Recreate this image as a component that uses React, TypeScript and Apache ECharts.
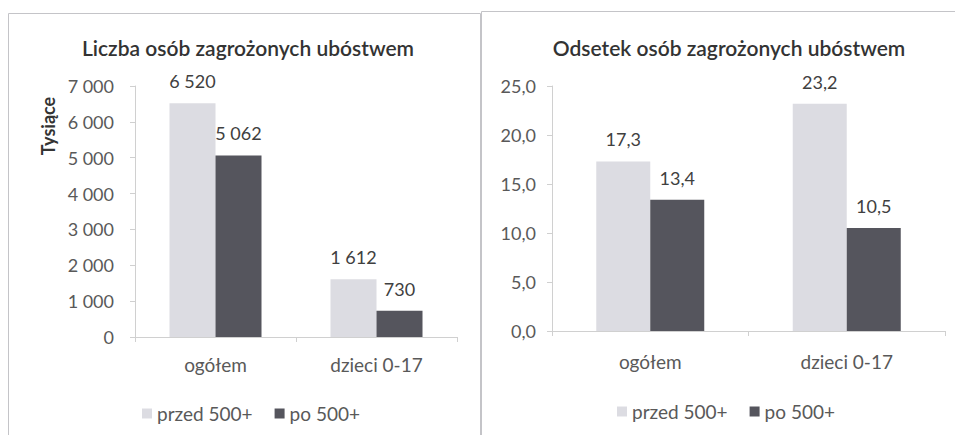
import React, { useEffect, useRef } from "react";
import * as echarts from "echarts";

const categories = ["ogółem", "dzieci 0-17"];
const seriesNames = ["przed 500+", "po 500+"];
const countBefore = [6520, 1612];
const countAfter = [5062, 730];
const shareBefore = [17.3, 23.2];
const shareAfter = [13.4, 10.5];
const countTicks = { min: 0, max: 7000, interval: 1000 };
const shareTicks = { min: 0, max: 25, interval: 5 };
const leftTitle = "Liczba osób zagrożonych ubóstwem";
const rightTitle = "Odsetek osób zagrożonych ubóstwem";
const leftAxisName = "Tysiące";

const LIGHT = "#dcdce2";
const DARK = "#55555d";
const FONT = "Lato, 'Open Sans', sans-serif";

const fmtThousands = (v: number) =>
  String(Math.round(v)).replace(/\B(?=(\d{3})+(?!\d))/g, " ");
const fmtComma = (v: number) => v.toFixed(1).replace(".", ",");

export default function App() {
  const ref = useRef<HTMLDivElement>(null);
  useEffect(() => {
    document.body.style.margin = "0";
    if (!ref.current) return;
    const chart = echarts.init(ref.current, undefined, { renderer: "svg" });
    const axisLabel = { color: "#595959", fontSize: 18, fontFamily: FONT };
    const catLabel = { color: "#595959", fontSize: 19, fontFamily: FONT };
    const axisLine = { show: true, lineStyle: { color: "#d0d0d0", width: 1 } };
    const barLabel = (fmt: (v: number) => string) => ({
      show: true,
      position: "top" as const,
      distance: 13,
      color: "#404040",
      fontSize: 18,
      fontFamily: FONT,
      formatter: (p: any) => fmt(p.value),
    });
    const legendText = { color: "#595959", fontSize: 19, fontFamily: FONT };
    chart.setOption({
      animation: false,
      backgroundColor: "#ffffff",
      title: [
        {
          text: leftTitle,
          left: 243,
          top: 32,
          textAlign: "center",
          textStyle: { fontSize: 21, fontWeight: 600, color: "#333", fontFamily: FONT },
        },
        {
          text: rightTitle,
          left: 724,
          top: 32,
          textAlign: "center",
          textStyle: { fontSize: 21, fontWeight: 600, color: "#333", fontFamily: FONT },
        },
      ],
      legend: [
        {
          data: seriesNames,
          left: 137,
          top: 399,
          icon: "rect",
          itemWidth: 10,
          itemHeight: 10,
          itemGap: 22,
          textStyle: legendText,
        },
        {
          data: seriesNames,
          left: 612,
          top: 397,
          icon: "rect",
          itemWidth: 10,
          itemHeight: 10,
          itemGap: 22,
          textStyle: legendText,
        },
      ],
      grid: [
        { left: 135, right: 498, top: 86, bottom: 98 },
        { left: 552, right: 10, top: 86, bottom: 104 },
      ],
      xAxis: [
        {
          type: "category",
          gridIndex: 0,
          data: categories,
          axisLine,
          axisTick: { show: true, length: 5, lineStyle: { color: "#d0d0d0" } },
          axisLabel: { ...catLabel, margin: 18 },
        },
        {
          type: "category",
          gridIndex: 1,
          data: categories,
          axisLine,
          axisTick: { show: true, length: 5, lineStyle: { color: "#d0d0d0" } },
          axisLabel: { ...catLabel, margin: 21 },
        },
      ],
      yAxis: [
        {
          type: "value",
          gridIndex: 0,
          ...countTicks,
          axisLine,
          axisTick: { show: true, length: 5, lineStyle: { color: "#d0d0d0" } },
          splitLine: { show: false },
          axisLabel: { ...axisLabel, margin: 21, formatter: (v: number) => fmtThousands(v) },
        },
        {
          type: "value",
          gridIndex: 1,
          ...shareTicks,
          axisLine,
          axisTick: { show: true, length: 5, lineStyle: { color: "#d0d0d0" } },
          splitLine: { show: false },
          axisLabel: { ...axisLabel, margin: 16, formatter: (v: number) => fmtComma(v) },
        },
      ],
      series: [
        {
          name: seriesNames[0],
          type: "bar",
          xAxisIndex: 0,
          yAxisIndex: 0,
          data: countBefore,
          barWidth: 46,
          barGap: "0%",
          itemStyle: { color: LIGHT },
          label: barLabel(fmtThousands),
        },
        {
          name: seriesNames[1],
          type: "bar",
          xAxisIndex: 0,
          yAxisIndex: 0,
          data: countAfter,
          barWidth: 46,
          barGap: "0%",
          itemStyle: { color: DARK },
          label: barLabel(fmtThousands),
        },
        {
          name: seriesNames[0],
          type: "bar",
          xAxisIndex: 1,
          yAxisIndex: 1,
          data: shareBefore,
          barWidth: 54,
          barGap: "0%",
          itemStyle: { color: LIGHT },
          label: barLabel(fmtComma),
        },
        {
          name: seriesNames[1],
          type: "bar",
          xAxisIndex: 1,
          yAxisIndex: 1,
          data: shareAfter,
          barWidth: 54,
          barGap: "0%",
          itemStyle: { color: DARK },
          label: barLabel(fmtComma),
        },
      ],
      graphic: [
        {
          type: "rect",
          shape: { x: 8.5, y: 13.5, width: 472, height: 440 },
          style: { fill: "none", stroke: "#c4c4c8", lineWidth: 1 },
          silent: true,
          z: -1,
        },
        {
          type: "rect",
          shape: { x: 481.5, y: 11.5, width: 490, height: 440 },
          style: { fill: "none", stroke: "#c4c4c8", lineWidth: 1 },
          silent: true,
          z: -1,
        },
        {
          type: "text",
          x: 48,
          y: 126,
          rotation: Math.PI / 2,
          style: {
            text: leftAxisName,
            fill: "#333",
            font: `bold 18px ${FONT}`,
            textAlign: "center",
            textVerticalAlign: "middle",
          },
        },
      ],
    });
    return () => chart.dispose();
  }, []);
  return <div ref={ref} style={{ width: 955, height: 435 }} />;
}
